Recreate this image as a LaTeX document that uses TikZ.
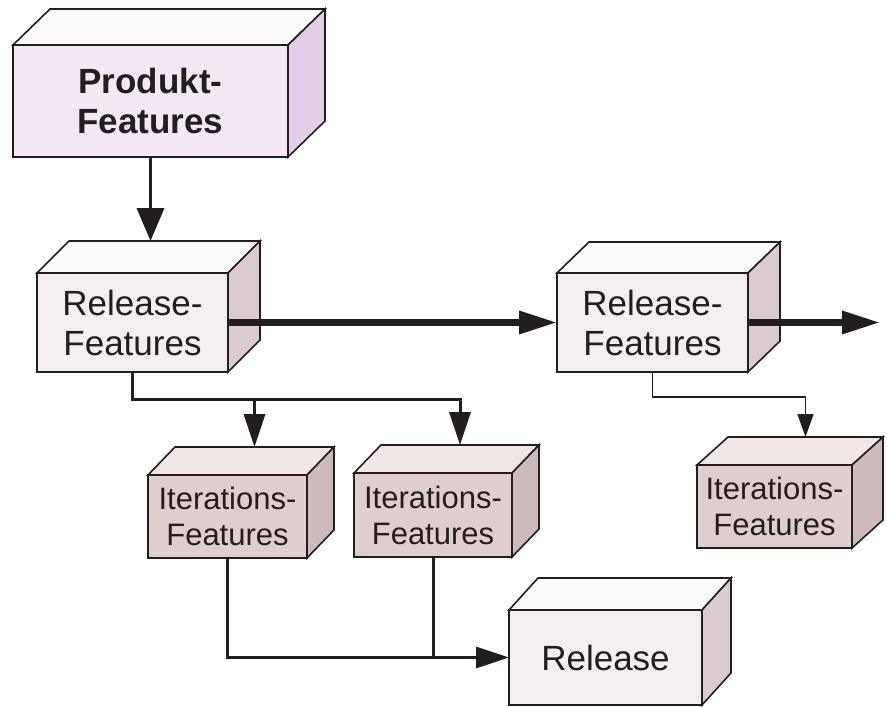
\documentclass[tikz,border=0pt]{standalone}
\usepackage{fontspec}
\setmainfont{Liberation Sans}
\usetikzlibrary{arrows.meta,calc}

\definecolor{prodfront}{RGB}{245,232,245}
\definecolor{prodtop}{RGB}{253,251,253}
\definecolor{prodside}{RGB}{226,206,231}
\definecolor{relfront}{RGB}{244,238,238}
\definecolor{reltop}{RGB}{252,250,250}
\definecolor{relside}{RGB}{218,203,207}
\definecolor{itfront}{RGB}{223,206,206}
\definecolor{ittop}{RGB}{242,231,231}
\definecolor{itside}{RGB}{204,186,189}
\definecolor{ink}{RGB}{35,30,30}

% top and right face of a box: name, depth x, depth y, top colour, side colour
\newcommand{\boxfaces}[5]{%
  \draw[boxline,fill=#4] (#1.north west) -- ++(#2,-#3) -- ($(#1.north east)+(#2,-#3)$) -- (#1.north east) -- cycle;
  \draw[boxline,fill=#5] (#1.north east) -- ++(#2,-#3) -- ($(#1.south east)+(#2,-#3)$) -- (#1.south east) -- cycle;
  \coordinate (#1-top) at ($(#1.north)+(#2,-#3)$);
}

\begin{document}
\begin{tikzpicture}[x=1pt,y=-1pt,
    boxline/.style={draw=ink,line width=1.6pt,line join=miter},
    front/.style={boxline,anchor=north west,inner sep=0pt,outer sep=0pt,align=center,text=ink},
    bigtext/.style={font=\fontsize{35}{40}\selectfont},
    smalltext/.style={font=\fontsize{31}{36}\selectfont},
    conn/.style={draw=ink,line width=3pt,-{Triangle[length=33pt,width=21pt]}},
    thickconn/.style={draw=ink,line width=6.5pt,-{Triangle[length=38pt,width=22pt]}},
    thinconn/.style={draw=ink,line width=1.6pt,-{Triangle[length=23pt,width=16pt]}}]
  \useasboundingbox (0,0) rectangle (887,707);

  \node[front,bigtext,fill=prodfront,minimum width=275pt,minimum height=112pt] (prod) at (13,45) {\bfseries Produkt-\\\bfseries Features};
  \boxfaces{prod}{37}{36}{prodtop}{prodside}

  \node[front,bigtext,fill=relfront,minimum width=191pt,minimum height=99pt] (rel1) at (37,273) {Release-\\Features};
  \boxfaces{rel1}{32}{32}{reltop}{relside}

  \node[front,bigtext,fill=relfront,minimum width=191pt,minimum height=99pt] (rel2) at (557,273) {Release-\\Features};
  \boxfaces{rel2}{32}{31}{reltop}{relside}

  \node[front,smalltext,fill=itfront,minimum width=159pt,minimum height=83pt] (it1) at (148,475) {Iterations-\\Features};
  \boxfaces{it1}{27}{28}{ittop}{itside}

  \node[front,smalltext,fill=itfront,minimum width=158pt,minimum height=84pt] (it2) at (354,473) {Iterations-\\Features};
  \boxfaces{it2}{27}{28}{ittop}{itside}

  \node[front,smalltext,fill=itfront,minimum width=155pt,minimum height=83pt] (it3) at (697,465) {Iterations-\\Features};
  \boxfaces{it3}{31}{28}{ittop}{itside}

  \node[front,bigtext,fill=relfront,minimum width=193pt,minimum height=95pt] (rel3) at (509,610) {Release};
  \boxfaces{rel3}{29}{32}{reltop}{relside}

  \coordinate (bus1) at ($(rel1.south)+(0,27)$);
  \coordinate (bus2) at ($(rel2.south)+(0,25)$);
  \coordinate (next) at (880,322.5);

  \draw[conn,line width=3.5pt,-{Triangle[length=33pt,width=27pt]}] (prod.south) -- (prod.south |- rel1-top);
  \draw[thickconn] (rel1.east) -- (rel2.west);
  \draw[thickconn] (rel2.east) -- (next);
  \draw[conn] (rel1.south) -- (bus1) -| (it2-top);
  \draw[conn] (bus1 -| it1-top) -- (it1-top);
  \draw[thinconn] (rel2.south) -- (bus2) -| (it3-top);
  \draw[conn] (it1.south) |- (rel3.west);
  \draw[draw=ink,line width=3pt] (it2.south) -- (it2.south |- rel3.west);
\end{tikzpicture}
\end{document}
